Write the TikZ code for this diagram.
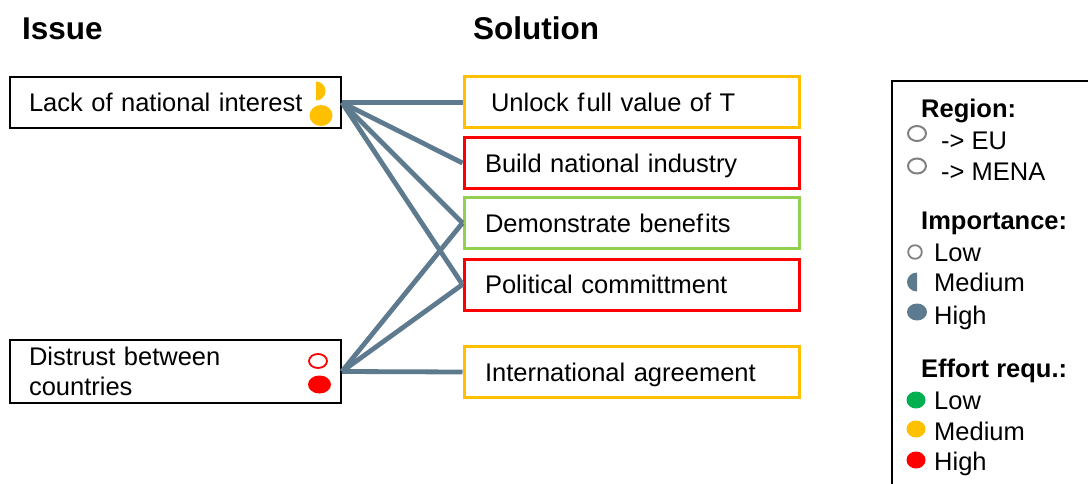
\documentclass[tikz,border=0pt]{standalone}
\usepackage{fontspec}
\setmainfont{Liberation Sans}
\definecolor{slate}{HTML}{5E7A8E}
\definecolor{orng}{HTML}{FFC000}
\definecolor{rd}{HTML}{FF0000}
\definecolor{lgrn}{HTML}{92D050}
\definecolor{dgrn}{HTML}{00B050}
\definecolor{gry}{HTML}{808080}
\begin{document}
\begin{tikzpicture}[x=1pt,y=-1pt,
  bodyfont/.style={font=\fontsize{25.5}{30.5}\selectfont},
  titletext/.style={font=\fontsize{31.5}{36}\selectfont\bfseries, anchor=west, inner sep=0pt, text height=22.6pt, text depth=0pt},
  issuebox/.style={bodyfont, draw=black, line width=1.8pt, minimum height=51pt, inner xsep=19pt, text width=293pt, align=left},
  solbox/.style={bodyfont, line width=3pt, minimum height=51pt, inner xsep=21pt, text width=293pt, align=left, text height=18.3pt, text depth=0pt},
  legtext/.style={bodyfont, anchor=west, inner sep=0pt, text height=18.3pt, text depth=0pt},
  leghead/.style={legtext, font=\fontsize{25.5}{30.5}\selectfont\bfseries},
  link/.style={draw=slate, line width=4.8pt}
]
\useasboundingbox (0,0) rectangle (1088,484);

% titles
\node[titletext] (tissue) at (22,28) {Issue};
\node[titletext] (tsol) at (473,28) {Solution};

% issue boxes
\node[issuebox, text height=18.3pt, text depth=0pt] (i1) at (175.5,102.5) {Lack of national interest};
\node[issuebox, minimum height=63pt] (i2) at (175.5,371.5) {Distrust between\\countries};

% indicators issue 1
\fill[orng] (316,81.5) arc[start angle=90, end angle=-90, x radius=9.5pt, y radius=9.5pt] -- cycle;
\fill[orng] (321,115.5) ellipse[x radius=11.5pt, y radius=10.5pt];
% indicators issue 2
\draw[rd, line width=1.8pt] (318,361) ellipse[x radius=9pt, y radius=7pt];
\fill[rd] (319.5,384.5) ellipse[x radius=11.5pt, y radius=9pt];

% solution boxes
\node[solbox, draw=orng] (s1) at (631.5,102.5) {\hspace{6pt}Unlock f\kern2pt ull value of T};
\node[solbox, draw=rd]   (s2) at (631.5,163) {Build national industry};
\node[solbox, draw=lgrn] (s3) at (631.5,223) {Demonstrate benef\kern2pt its};
\node[solbox, draw=rd]   (s4) at (631.5,284.5) {Political committment};
\node[solbox, draw=orng] (s5) at (631.5,372) {International agreement};

% connectors
\draw[link] (i1.east) -- (s1.west);
\draw[link] (i1.east) -- (s2.west);
\draw[link] (i1.east) -- (s3.west);
\draw[link] (i1.east) -- (s4.west);
\draw[link] (i2.east) -- (s3.west);
\draw[link] (i2.east) -- (s4.west);
\draw[link] (i2.east) -- (s5.west);

% legend
\node[draw=black, line width=2pt, minimum width=220pt, minimum height=430pt, anchor=north west, inner sep=0pt] (legend) at (891,80) {};
\node[leghead] (lreg) at (921,108) {Region:};
\draw[gry, line width=2pt] (917,133.5) ellipse[x radius=9pt, y radius=7.5pt];
\node[legtext] (leu) at (941,140) {-> EU};
\draw[gry, line width=2pt] (917,166) ellipse[x radius=9pt, y radius=7.5pt];
\node[legtext] (lmena) at (941,171) {-> MENA};

\node[leghead] (limp) at (921,220) {Importance:};
\draw[gry, line width=1.8pt] (915,252) circle[radius=6.8pt];
\node[legtext] (lil) at (934,252) {Low};
\fill[slate] (917,272.5) arc[start angle=90, end angle=270, x radius=10pt, y radius=9.5pt] -- cycle;
\node[legtext] (lim) at (934,282.5) {Medium};
\fill[slate] (917,312) ellipse[x radius=10pt, y radius=8.5pt];
\node[legtext] (lih) at (934,315) {High};

\node[leghead] (leff) at (921,368) {Effort requ.:};
\fill[dgrn] (916,400) ellipse[x radius=9.5pt, y radius=8.5pt];
\node[legtext] (lel) at (934,400) {Low};
\fill[orng] (916,429) ellipse[x radius=9.5pt, y radius=8.5pt];
\node[legtext] (lem) at (934,431) {Medium};
\fill[rd] (916,460) ellipse[x radius=9.5pt, y radius=8.5pt];
\node[legtext] (leh) at (934,461) {High};
\end{tikzpicture}
\end{document}
